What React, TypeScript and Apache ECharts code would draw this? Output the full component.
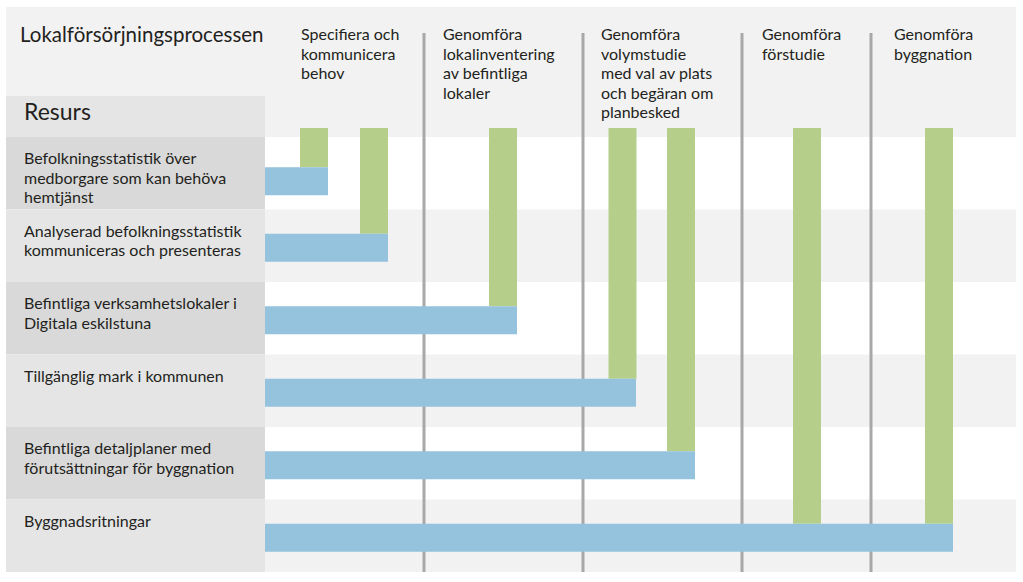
import React, { useEffect, useRef } from "react";
import * as echarts from "echarts";

const rowLabels = [
  "Befolkningsstatistik över\nmedborgare som kan behöva\nhemtjänst",
  "Analyserad befolkningsstatistik\nkommuniceras och presenteras",
  "Befintliga verksamhetslokaler i\nDigitala eskilstuna",
  "Tillgänglig mark i kommunen",
  "Befintliga detaljplaner med\nförutsättningar för byggnation",
  "Byggnadsritningar",
];
// end of each resource (blue) bar on the process axis
const blueEnds = [63, 123, 252, 371, 430, 688];
// process steps (green): position on the process axis and the resource row they reach
const greenCenters = [49, 109, 238, 357.5, 416, 542, 674];
const greenEndRows = [0, 1, 2, 3, 4, 5, 5];
// phase separators on the process axis
const phaseBoundaries = [159, 318, 477, 606];
const phaseLabels = [
  "Specifiera och\nkommunicera\nbehov",
  "Genomföra\nlokalinventering\nav befintliga\nlokaler",
  "Genomföra\nvolymstudie\nmed val av plats\noch begäran om\nplanbesked",
  "Genomföra\nförstudie",
  "Genomföra\nbyggnation",
];
const title = "Lokalförsörjningsprocessen";
const resourceHeader = "Resurs";
const axisMax = 751;

const FONT = "Lato";
const TEXT = "#231f20";
const GREEN = "#b5cf8b";
const BLUE = "#95c2dc";
const SEP = "#a8a8a8";

const phaseX = [301, 443, 601, 762, 894];

export default function App() {
  const ref = useRef<HTMLDivElement>(null);
  useEffect(() => {
    if (!ref.current) return;
    const chart = echarts.init(ref.current, null, { renderer: "svg" });
    const barHalf = 14;
    const rowCenterY = (api: any, r: number) => {
      const t = api.coord([0, r])[1];
      const b = api.coord([0, r + 1])[1];
      return (t + b) / 2 + (r === 0 ? 8 : 2);
    };
    const option: any = {
      animation: false,
      backgroundColor: "#ffffff",
      grid: { left: 265, right: 7, top: 137, bottom: 10 },
      xAxis: { type: "value", min: 0, max: axisMax, show: false },
      yAxis: { type: "value", min: 0, max: rowLabels.length, inverse: true, show: false },
      graphic: [
        { type: "rect", z: 0, shape: { x: 6, y: 7, width: 1010, height: 130 }, style: { fill: "#f2f2f2" } },
        { type: "rect", z: 0, shape: { x: 6, y: 96, width: 259, height: 41 }, style: { fill: "#e5e5e5" } },
        {
          type: "text", z: 5, x: 20, y: 23,
          style: { text: title, fontFamily: FONT, fontSize: 20.5, fill: TEXT, verticalAlign: "top" },
        },
        {
          type: "text", z: 5, x: 24, y: 99,
          style: { text: resourceHeader, fontFamily: FONT, fontSize: 23, fill: TEXT, verticalAlign: "top" },
        },
        ...phaseLabels.map((t, i) => ({
          type: "text", z: 5, x: phaseX[i], y: 24,
          style: { text: t, fontFamily: FONT, fontSize: 16, lineHeight: 19.5, fill: TEXT, verticalAlign: "top" },
        })),
      ],
      series: [
        {
          type: "custom",
          name: "rows",
          z: 1,
          data: rowLabels.map((_, i) => [0, i]),
          encode: { x: 0, y: 1 },
          renderItem: (params: any, api: any) => {
            const r = api.value(1);
            const top = api.coord([0, r])[1];
            const bottom = api.coord([0, r + 1])[1];
            const left = api.coord([0, r])[0];
            const right = api.coord([axisMax, r])[0];
            const even = r % 2 === 0;
            return {
              type: "group",
              children: [
                { type: "rect", shape: { x: 6, y: top, width: left - 6, height: bottom - top }, style: { fill: even ? "#d9d9d9" : "#e5e5e5" } },
                { type: "rect", shape: { x: left, y: top, width: right - left, height: bottom - top }, style: { fill: even ? "#ffffff" : "#f2f2f2" } },
                {
                  type: "text",
                  style: {
                    text: rowLabels[params.dataIndex], x: 24, y: top + 11,
                    fontFamily: FONT, fontSize: 16, lineHeight: 19.5, fill: TEXT, verticalAlign: "top",
                  },
                },
              ],
            };
          },
        },
        {
          type: "custom",
          name: "phases",
          z: 2,
          data: phaseBoundaries.map((x) => [x, 0]),
          encode: { x: 0, y: 1 },
          renderItem: (params: any, api: any) => {
            const x = api.coord([api.value(0), 0])[0];
            const top = api.coord([0, 0])[1];
            const bottom = api.coord([0, rowLabels.length])[1];
            return {
              type: "rect",
              shape: { x: x - 1.5, y: top - 104, width: 3, height: bottom - top + 104 },
              style: { fill: SEP },
            };
          },
        },
        {
          type: "custom",
          name: "steps",
          z: 3,
          data: greenCenters.map((c, i) => [c, greenEndRows[i]]),
          encode: { x: 0, y: 1 },
          renderItem: (params: any, api: any) => {
            const cx = api.coord([api.value(0), 0])[0];
            const top = api.coord([0, 0])[1] - 9;
            const end = rowCenterY(api, api.value(1)) - barHalf;
            return {
              type: "rect",
              shape: { x: cx - 14, y: top, width: 28, height: end - top },
              style: { fill: GREEN },
            };
          },
        },
        {
          type: "custom",
          name: "resources",
          z: 4,
          data: blueEnds.map((e, i) => [e, i]),
          encode: { x: 0, y: 1 },
          renderItem: (params: any, api: any) => {
            const x0 = api.coord([0, 0])[0];
            const x1 = api.coord([api.value(0), 0])[0];
            const cy = rowCenterY(api, api.value(1));
            return {
              type: "rect",
              shape: { x: x0, y: cy - barHalf, width: x1 - x0, height: barHalf * 2 },
              style: { fill: BLUE },
            };
          },
        },
      ],
    };
    chart.setOption(option);
    return () => chart.dispose();
  }, []);
  return (
    <div
      ref={ref}
      style={{ position: "fixed", left: 0, top: 0, width: 1023, height: 582 }}
    />
  );
}
